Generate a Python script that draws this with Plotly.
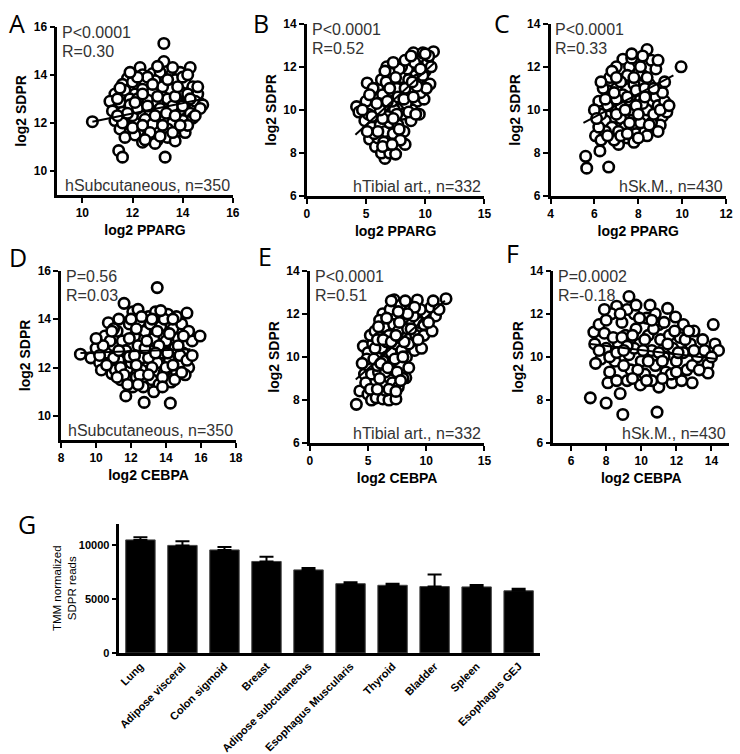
import plotly.graph_objects as go

W, H = 740, 754
FONT = "Liberation Sans, Arial, sans-serif"

# ------------------------------------------
# scatter data (x, y)
# ------------------------------------------

A_PTS = [
    (10.4, 12.05), (13.25, 15.3), (13.25, 14.55), (12.3, 14.3), (14.3, 14.3),
    (11.8, 13.85), (12.4, 14.0), (12.8, 14.05), (13.1, 14.1), (13.55, 14.0), (13.9, 14.1),
    (11.6, 13.6), (12.0, 13.7), (12.5, 13.65), (12.9, 13.75), (13.3, 13.6), (13.7, 13.8),
    (14.1, 13.65), (14.4, 13.5),
    (11.3, 13.2), (11.7, 13.35), (12.1, 13.2), (12.4, 13.4), (12.8, 13.3), (13.2, 13.2),
    (13.5, 13.4), (13.9, 13.3), (14.2, 13.2), (14.6, 13.2),
    (11.1, 12.9), (11.5, 12.85), (11.9, 13.0), (12.3, 12.8), (12.6, 12.95), (13.0, 12.85),
    (13.4, 13.0), (13.8, 12.9), (14.1, 12.8), (14.5, 12.9), (14.8, 12.75),
    (11.2, 12.5), (11.6, 12.45), (12.0, 12.6), (12.3, 12.35), (12.7, 12.5), (13.1, 12.6),
    (13.5, 12.45), (13.9, 12.55), (14.3, 12.4), (14.7, 12.6),
    (11.3, 12.1), (11.7, 12.2), (12.1, 12.0), (12.5, 12.15), (12.9, 12.05), (13.3, 12.2),
    (13.6, 12.0), (14.0, 12.1), (14.4, 12.2),
    (11.5, 11.75), (11.9, 11.6), (12.3, 11.7), (12.7, 11.8), (13.0, 11.6), (13.4, 11.75),
    (13.8, 11.65), (14.1, 11.6),
    (11.7, 11.4), (12.1, 11.5), (12.6, 11.45), (13.0, 11.3), (13.4, 11.4), (13.7, 11.25),
    (12.9, 11.15), (12.4, 11.2),
    (11.45, 10.85), (11.6, 10.58), (13.3, 10.58),
    (12.2, 13.0), (13.6, 12.7), (12.8, 11.95), (13.2, 13.5), (12.0, 12.3), (13.7, 13.1),
    (11.9, 12.75), (14.0, 13.9), (12.6, 13.9),
    (11.4, 13.0), (11.8, 12.4), (12.2, 12.6), (12.6, 12.7), (13.0, 13.1), (13.35, 12.4),
    (13.7, 12.3), (14.0, 12.7), (14.3, 13.0), (12.4, 13.2), (12.8, 13.6), (13.4, 13.8),
    (13.8, 13.5), (12.2, 13.9), (11.6, 12.0), (12.0, 11.8), (12.4, 11.9), (12.9, 12.3),
    (13.2, 11.9), (13.6, 11.6), (14.2, 11.9), (11.4, 12.3), (12.7, 11.6), (13.1, 11.45),
    (14.5, 12.3), (14.6, 13.5), (11.9, 14.1), (13.0, 14.35), (13.6, 14.3), (12.1, 12.85),
    (11.5, 13.45), (14.2, 14.0), (12.5, 11.3), (13.9, 11.9),
]

B_PTS = [
    (4.2, 10.15), (4.4, 9.9), (5.1, 11.25), (4.9, 9.5), (5.3, 8.65), (5.8, 8.3), (6.6, 7.75),
    (6.3, 8.0), (7.0, 8.0), (7.5, 7.95), (6.9, 8.4), (7.5, 8.7), (5.5, 9.2), (5.9, 9.7),
    (5.4, 10.1), (5.8, 10.6), (6.0, 11.0), (6.3, 11.4), (6.75, 12.0), (6.5, 10.2), (6.2, 9.3),
    (6.6, 9.0), (7.0, 9.4), (6.9, 10.7), (7.2, 11.2), (7.4, 10.0), (7.7, 9.3), (7.9, 10.5),
    (8.0, 11.5), (8.3, 8.4), (8.2, 9.0), (8.1, 9.8), (6.0, 8.7), (6.4, 10.7), (7.1, 11.7),
    (7.6, 11.0), (5.6, 11.0), (6.8, 9.7), (7.3, 8.9),
    (8.5, 10.8), (8.5, 11.9), (8.7, 10.2), (8.8, 9.5), (9.0, 12.65), (9.0, 11.0), (9.2, 11.6),
    (9.3, 10.4), (9.5, 12.0), (9.5, 9.8), (9.7, 11.2), (9.8, 12.65), (9.9, 10.5), (10.0, 11.8),
    (10.2, 12.2), (10.4, 11.2), (10.5, 12.0), (10.7, 12.7), (9.6, 10.8), (8.9, 10.0),
    (9.1, 12.2), (8.6, 11.4), (10.1, 11.0), (9.4, 11.4), (8.0, 12.0), (8.3, 11.0), (7.8, 11.9),
    (5.0, 10.4), (5.2, 9.8), (6.1, 10.3), (7.2, 10.4), (7.6, 9.8), (8.4, 10.3), (6.7, 11.3),
    (7.9, 8.6), (6.5, 8.5), (5.7, 8.9),
    (5.5, 9.7), (6.0, 9.0), (6.4, 9.6), (6.8, 10.4), (7.0, 11.0), (7.3, 9.6), (7.7, 10.6),
    (8.2, 10.5), (8.6, 9.9), (9.0, 10.6), (9.3, 11.1), (9.8, 11.6), (10.3, 12.5), (6.2, 10.0),
    (5.9, 10.3), (7.5, 11.5), (8.3, 12.3), (8.9, 11.3), (9.6, 11.9), (6.6, 11.8), (7.3, 12.2),
    (5.3, 10.7), (6.4, 8.3), (7.2, 8.4), (7.8, 9.1), (8.8, 12.5), (10.0, 12.6), (4.7, 10.0),
    (5.1, 9.0), (9.2, 9.8),
]

C_PTS = [
    (5.6, 7.85), (5.65, 7.3), (6.65, 7.35), (6.25, 8.1), (6.05, 8.8), (6.3, 8.6), (7.1, 8.4),
    (7.5, 8.7), (7.9, 8.9), (8.3, 9.0), (6.6, 10.9), (6.2, 10.4), (6.5, 9.5), (6.8, 9.2),
    (6.9, 10.1), (7.2, 9.6), (7.0, 11.0), (7.4, 11.45), (7.3, 12.35), (7.6, 12.0), (7.8, 11.2),
    (8.0, 12.2), (8.4, 12.8), (8.2, 11.6), (8.6, 12.3), (8.8, 11.9), (9.95, 12.0), (9.1, 9.7),
    (9.0, 9.3), (7.6, 10.3), (7.8, 9.7), (8.1, 10.5), (8.4, 10.0), (8.6, 9.4), (8.8, 10.6),
    (9.0, 11.0), (8.5, 11.2), (7.3, 10.7), (6.7, 11.5), (6.4, 11.0), (7.0, 12.0), (7.9, 10.9),
    (8.3, 11.0), (8.9, 10.2), (9.2, 10.4), (6.9, 8.6), (7.4, 9.2), (8.1, 9.4), (7.7, 10.0),
    (6.6, 10.2), (7.2, 10.2), (8.7, 9.8), (7.5, 11.6), (8.0, 11.7), (6.3, 9.8), (6.0, 10.0),
    (7.1, 9.0), (8.4, 8.8), (7.8, 8.5), (9.1, 10.8), (6.8, 11.8), (7.7, 12.4), (8.1, 12.0),
    (9.3, 9.9), (7.5, 10.6), (8.2, 10.3), (7.0, 10.5), (6.5, 9.0),
    (6.2, 9.2), (6.6, 8.8), (7.0, 9.8), (7.4, 10.0), (7.9, 10.2), (8.3, 10.6), (8.7, 11.0),
    (9.0, 10.0), (6.9, 10.8), (7.2, 11.3), (7.8, 11.5), (8.4, 11.5), (8.9, 12.3), (7.0, 11.5),
    (6.5, 10.5), (7.6, 9.4), (8.0, 9.8), (8.5, 9.3), (8.9, 9.0), (7.2, 8.8), (7.7, 12.6),
    (8.2, 12.5), (6.3, 11.3), (6.1, 9.6), (9.2, 11.3), (9.4, 10.2), (7.5, 8.9), (8.0, 8.7),
]

D_PTS = [
    (9.1, 12.55), (9.7, 12.4), (10.0, 12.8), (10.2, 12.2), (10.5, 13.3), (10.7, 13.85),
    (10.6, 12.6), (10.9, 11.75), (11.0, 12.9), (11.2, 13.5), (11.3, 12.3), (11.4, 11.5),
    (11.6, 14.65), (11.5, 13.1), (11.7, 12.7), (11.8, 11.95), (11.9, 13.8), (12.0, 12.2),
    (12.1, 14.3), (12.2, 13.3), (12.3, 11.6), (12.4, 12.9), (12.5, 13.9), (12.6, 12.4),
    (12.7, 11.2), (12.8, 13.5), (12.9, 12.0), (13.0, 14.1), (13.1, 12.7), (13.2, 11.5),
    (13.3, 13.2), (13.4, 14.3), (13.5, 15.3), (13.5, 12.2), (13.6, 11.3), (13.7, 13.7),
    (13.8, 12.6), (13.9, 11.8), (14.0, 13.1), (14.1, 14.2), (14.2, 12.3), (14.3, 11.4),
    (14.4, 13.6), (14.5, 12.8), (14.6, 11.8), (14.7, 13.2), (14.8, 12.1), (14.9, 13.8),
    (15.0, 12.6), (15.2, 14.25), (15.3, 12.0), (15.5, 13.1), (15.95, 13.3),
    (11.7, 10.83), (12.75, 10.56), (14.25, 10.53),
    (10.3, 11.9), (10.8, 13.1), (11.1, 11.9), (11.9, 12.45), (12.3, 13.6), (12.6, 11.9),
    (13.0, 12.4), (13.3, 11.0), (13.6, 12.9), (13.9, 14.0), (14.2, 13.4), (14.5, 11.5),
    (14.8, 12.5), (15.1, 11.7), (12.1, 11.2), (11.4, 12.0), (13.1, 13.8), (12.8, 12.8),
    (14.0, 12.0), (11.0, 12.4), (12.4, 14.4), (14.6, 14.1), (15.3, 13.5), (10.4, 12.9),
    (10.0, 13.2), (10.6, 12.1), (11.0, 13.6), (11.3, 12.7), (11.6, 11.7), (11.9, 13.2),
    (12.2, 12.5), (12.5, 11.7), (12.9, 13.1), (13.2, 12.0), (13.5, 13.5), (13.8, 11.6),
    (14.1, 12.6), (14.4, 12.1), (14.7, 12.9), (15.0, 13.3), (15.2, 12.3), (12.0, 14.0),
    (12.6, 14.1), (13.2, 14.0), (13.7, 14.35), (14.4, 14.0), (11.3, 14.0), (11.8, 11.3),
    (12.4, 11.3), (13.0, 11.7), (13.8, 11.2), (14.9, 11.8), (10.2, 12.5), (11.2, 11.6),
    (15.5, 12.5), (12.3, 12.1), (13.4, 12.6), (10.9, 13.5),
]

E_PTS = [
    (4.0, 7.8), (4.3, 8.42), (5.0, 8.27), (5.3, 8.0), (5.7, 8.1), (6.27, 8.05), (6.8, 8.0),
    (7.4, 8.05), (6.5, 8.45), (7.1, 8.8), (5.5, 8.8), (4.7, 9.2), (5.0, 9.6), (5.3, 9.2),
    (5.9, 9.3), (6.5, 9.3), (7.2, 9.4), (8.25, 9.03), (7.8, 9.6), (4.6, 10.5), (5.0, 10.2),
    (5.4, 10.6), (5.8, 10.0), (6.2, 10.4), (6.6, 10.0), (7.0, 10.2), (7.4, 10.6), (7.9, 10.3),
    (8.3, 10.0), (5.2, 11.0), (5.6, 11.2), (6.0, 10.9), (6.4, 11.4), (6.8, 11.0), (7.2, 11.5),
    (7.6, 11.2), (8.0, 11.8), (8.4, 11.3), (8.8, 10.6), (9.1, 11.0), (9.4, 11.6), (9.8, 11.0),
    (10.5, 11.2), (10.0, 12.0), (10.4, 12.3), (9.5, 12.2), (9.24, 12.64), (8.6, 12.2),
    (7.25, 12.65), (6.27, 12.0), (7.8, 12.4), (8.2, 12.6), (11.7, 12.7), (10.8, 11.9),
    (9.0, 10.3), (6.0, 11.7), (5.8, 9.6), (6.9, 9.7), (7.6, 8.6), (8.0, 9.0), (6.2, 8.7),
    (4.8, 8.8), (5.6, 10.4), (6.6, 10.7), (7.3, 9.9), (8.5, 10.6), (9.6, 10.4), (6.9, 12.2),
    (7.7, 11.6), (8.9, 11.9), (5.9, 11.4), (6.3, 9.8),
    (5.2, 8.5), (5.8, 8.5), (6.8, 8.5), (7.4, 8.4), (4.9, 9.9), (5.5, 9.9), (6.1, 9.7),
    (6.7, 9.5), (7.5, 9.3), (8.0, 10.0), (5.8, 10.8), (6.3, 10.8), (7.0, 10.7), (7.4, 11.0),
    (8.1, 10.7), (8.7, 11.3), (9.3, 10.8), (9.8, 11.5), (10.2, 11.6), (9.0, 12.3), (8.4, 12.0),
    (7.6, 12.1), (6.6, 11.8), (7.0, 12.6), (10.6, 12.6), (11.1, 12.2), (6.0, 9.0), (4.5, 9.7),
    (7.8, 8.9), (8.5, 9.5),
]

F_PTS = [
    (7.1, 8.1), (8.0, 7.86), (8.95, 7.33), (10.9, 7.44), (9.3, 12.8), (8.6, 12.35),
    (11.5, 12.25), (11.95, 11.85), (12.4, 11.5), (14.1, 11.5), (14.2, 10.6), (14.4, 10.3),
    (13.8, 9.65), (13.8, 9.25), (12.9, 8.8), (11.75, 8.8), (11.0, 8.6), (9.95, 8.7), (8.8, 8.3),
    (7.35, 10.6), (7.3, 11.15), (7.6, 11.5), (7.9, 11.1), (8.0, 10.4), (7.7, 9.9), (8.2, 9.3),
    (8.5, 9.8), (8.7, 10.6), (8.9, 11.6), (9.1, 11.0), (9.3, 10.1), (9.4, 9.4), (9.6, 12.0),
    (9.7, 11.3), (9.9, 10.6), (10.0, 9.8), (10.2, 9.2), (10.3, 11.8), (10.4, 11.0),
    (10.6, 10.3), (10.8, 9.6), (11.0, 11.5), (11.1, 10.8), (11.3, 10.0), (11.4, 9.3),
    (11.6, 11.0), (11.8, 10.4), (12.0, 9.8), (12.2, 10.9), (12.4, 10.2), (12.6, 9.4),
    (12.8, 10.6), (13.0, 11.2), (13.2, 10.0), (8.3, 12.0), (8.1, 8.8), (8.6, 8.9), (9.2, 8.9),
    (10.6, 8.9), (9.0, 9.6), (9.6, 10.4), (10.1, 10.3), (10.8, 12.0), (12.9, 9.6),
    (13.6, 10.3), (7.9, 12.2), (9.9, 11.8), (11.7, 9.2), (12.3, 8.9), (8.4, 10.9), (9.2, 12.2),
    (10.5, 12.4),
    (8.2, 10.0), (8.6, 10.2), (8.9, 10.9), (9.2, 10.5), (9.5, 11.0), (9.8, 9.4), (10.2, 10.8),
    (10.4, 9.8), (10.7, 11.3), (11.0, 10.2), (11.2, 9.8), (11.5, 10.6), (11.9, 11.2),
    (12.1, 10.2), (12.5, 10.8), (12.7, 11.2), (13.0, 10.3), (8.0, 11.7), (8.8, 12.0),
    (9.5, 9.0), (10.3, 8.9), (11.2, 9.0), (12.0, 9.3), (13.3, 9.4), (13.5, 10.8), (14.0, 10.0),
    (7.6, 10.3), (7.4, 9.7), (9.0, 10.3), (10.6, 11.7), (9.7, 12.4), (11.3, 11.6),
]

# regression line end points
A_FIT_X, A_FIT_Y = [10.4, 14.85], [12.05, 13.0]
B_FIT_X, B_FIT_Y = [4.1, 10.8], [8.85, 12.2]
C_FIT_X, C_FIT_Y = [5.5, 9.6], [9.4, 11.6]
D_FIT_X, D_FIT_Y = [9.1, 15.4], [12.6, 12.75]
E_FIT_X, E_FIT_Y = [3.95, 11.6], [8.95, 12.6]
F_FIT_X, F_FIT_Y = [7.1, 14.3], [10.6, 9.9]

P_TEXT = ["P&lt;0.0001", "P&lt;0.0001", "P&lt;0.0001", "P=0.56", "P&lt;0.0001", "P=0.0002"]
R_TEXT = ["R=0.30", "R=0.52", "R=0.33", "R=0.03", "R=0.51", "R=-0.18"]
TISSUE_TEXT = ["hSubcutaneous, n=350", "hTibial art., n=332", "hSk.M., n=430",
               "hSubcutaneous, n=350", "hTibial art., n=332", "hSk.M., n=430"]
X_TITLES = ["log2 PPARG"] * 3 + ["log2 CEBPA"] * 3

# ------------------------------------------
# bar data
# ------------------------------------------

G_TISSUES = ["Lung", "Adipose visceral", "Colon sigmoid", "Breast", "Adipose subcutaneous",
             "Esophagus Muscularis", "Thyroid", "Bladder", "Spleen", "Esophagus GEJ"]
G_MEAN = [10480, 9970, 9550, 8480, 7700, 6420, 6270, 6150, 6120, 5760]
G_SEM = [250, 390, 270, 430, 180, 130, 150, 1120, 180, 180]

# ------------------------------------------
# layout geometry (pixels: left, top, right, bottom)
# ------------------------------------------

panels = [
    dict(pts=A_PTS, fx=A_FIT_X, fy=A_FIT_Y, box=(55, 20, 233, 192),
         xr=[9, 16], xt=[10, 12, 14, 16], yr=[9, 16], yt=[10, 12, 14, 16], letter="A", lpos=(14, 16)),
    dict(pts=B_PTS, fx=B_FIT_X, fy=B_FIT_Y, box=(308, 17, 488, 193),
         xr=[0, 15], xt=[0, 5, 10, 15], yr=[6, 14], yt=[6, 8, 10, 12, 14], letter="B", lpos=(262, 16)),
    dict(pts=C_PTS, fx=C_FIT_X, fy=C_FIT_Y, box=(555, 17, 733, 193),
         xr=[4, 12], xt=[4, 6, 8, 10, 12], yr=[6, 14], yt=[6, 8, 10, 12, 14], letter="C", lpos=(506, 16)),
    dict(pts=D_PTS, fx=D_FIT_X, fy=D_FIT_Y, box=(59, 269, 236, 442),
         xr=[8, 18], xt=[8, 10, 12, 14, 16, 18], yr=[9, 16], yt=[10, 12, 14, 16], letter="D", lpos=(15, 255)),
    dict(pts=E_PTS, fx=E_FIT_X, fy=E_FIT_Y, box=(311, 269, 488, 445),
         xr=[0, 15], xt=[0, 5, 10, 15], yr=[6, 14], yt=[6, 8, 10, 12, 14], letter="E", lpos=(266, 254)),
    dict(pts=F_PTS, fx=F_FIT_X, fy=F_FIT_Y, box=(558, 269, 736, 445),
         xr=[5, 15], xt=[6, 8, 10, 12, 14], yr=[6, 14], yt=[6, 8, 10, 12, 14], letter="F", lpos=(516, 251)),
]
G_BOX = (118, 527, 544, 659)


def px(x, y):
    return x / W, 1 - y / H


def axis(domain, rng, ticks, anchor, title, standoff, tickfont=12):
    return dict(
        domain=domain, range=rng, tickvals=ticks, anchor=anchor,
        showline=True, linecolor="black", linewidth=2.5,
        ticks="outside", ticklen=5, tickwidth=2, tickcolor="black",
        showgrid=False, zeroline=False, fixedrange=True,
        tickfont=dict(family=FONT, size=tickfont, color="black", weight="bold"),
        title=dict(text=title, standoff=standoff,
                   font=dict(family=FONT, size=14, color="black", weight="bold")),
    )


fig = go.Figure()
layout = {}
annotations = []

for i, p in enumerate(panels):
    n = i + 1
    sx = "" if n == 1 else str(n)
    l, t, r, b = p["box"]

    fig.add_trace(go.Scatter(
        x=[q[0] for q in p["pts"]], y=[q[1] for q in p["pts"]],
        mode="markers", xaxis="x" + sx, yaxis="y" + sx, cliponaxis=False,
        marker=dict(symbol="circle", size=10.5, color="white",
                    line=dict(color="black", width=2.6)),
    ))
    fig.add_trace(go.Scatter(
        x=p["fx"], y=p["fy"], mode="lines", xaxis="x" + sx, yaxis="y" + sx,
        line=dict(color="black", width=2),
    ))

    layout["xaxis" + sx] = axis([l / W, r / W], p["xr"], p["xt"], "y" + sx, X_TITLES[i], 6)
    layout["yaxis" + sx] = axis([1 - b / H, 1 - t / H], p["yr"], p["yt"], "x" + sx, "log2 SDPR", 4)

    lx, ly = px(*p["lpos"])
    annotations.append(dict(x=lx, y=ly, xref="paper", yref="paper", text=p["letter"],
                            showarrow=False, xanchor="center", yanchor="middle",
                            font=dict(family="Open Sans, sans-serif", size=25, color="black")))
    for txt, yy in [(P_TEXT[i], t + 6), (R_TEXT[i], t + 25)]:
        ax_, ay_ = px(l + 3, yy)
        annotations.append(dict(x=ax_, y=ay_, xref="paper", yref="paper", text=txt,
                                showarrow=False, xanchor="left", yanchor="middle",
                                font=dict(family=FONT, size=16, color="#333333")))
    ax_, ay_ = px(r - 1, b - 10)
    annotations.append(dict(x=ax_, y=ay_, xref="paper", yref="paper", text=TISSUE_TEXT[i],
                            showarrow=False, xanchor="right", yanchor="middle",
                            font=dict(family=FONT, size=16, color="#333333")))

# ------------------------------------------
# bar chart G
# ------------------------------------------

fig.add_trace(go.Bar(
    x=G_TISSUES, y=G_MEAN, xaxis="x7", yaxis="y7", width=0.7,
    marker=dict(color="black", line=dict(color="#444444", width=1)),
    error_y=dict(type="data", symmetric=False, array=G_SEM, arrayminus=[0] * len(G_SEM),
                 color="black", thickness=2, width=7),
))

l, t, r, b = G_BOX
layout["xaxis7"] = dict(
    domain=[l / W, r / W], anchor="y7", range=[-0.5, len(G_TISSUES) - 0.5],
    showline=True, linecolor="black", linewidth=2.5, ticks="", showgrid=False,
    tickangle=-45, fixedrange=True,
    tickfont=dict(family=FONT, size=11, color="black", weight="bold"),
)
layout["yaxis7"] = dict(
    domain=[1 - b / H, 1 - t / H], anchor="x7", range=[0, 12000],
    tickvals=[0, 5000, 10000], tickformat="d",
    showline=True, linecolor="black", linewidth=2.5,
    ticks="outside", ticklen=5, tickwidth=2, tickcolor="black",
    showgrid=False, zeroline=False, fixedrange=True,
    tickfont=dict(family=FONT, size=11, color="black", weight="bold"),
    title=dict(text="TMM normalized<br>SDPR reads", standoff=0,
               font=dict(family=FONT, size=11.5, color="black")),
)
gx, gy = px(24, 528)
annotations.append(dict(x=gx, y=gy, xref="paper", yref="paper", text="G",
                        showarrow=False, xanchor="center", yanchor="middle",
                        font=dict(family="Open Sans, sans-serif", size=25, color="black")))

fig.update_layout(
    width=W, height=H,
    margin=dict(l=0, r=0, t=0, b=0),
    paper_bgcolor="white", plot_bgcolor="white",
    showlegend=False, bargap=0.3,
    annotations=annotations,
    **layout,
)

fig.write_html("out.html", config={"displayModeBar": False},
               post_script="document.body.style.margin='0';")
